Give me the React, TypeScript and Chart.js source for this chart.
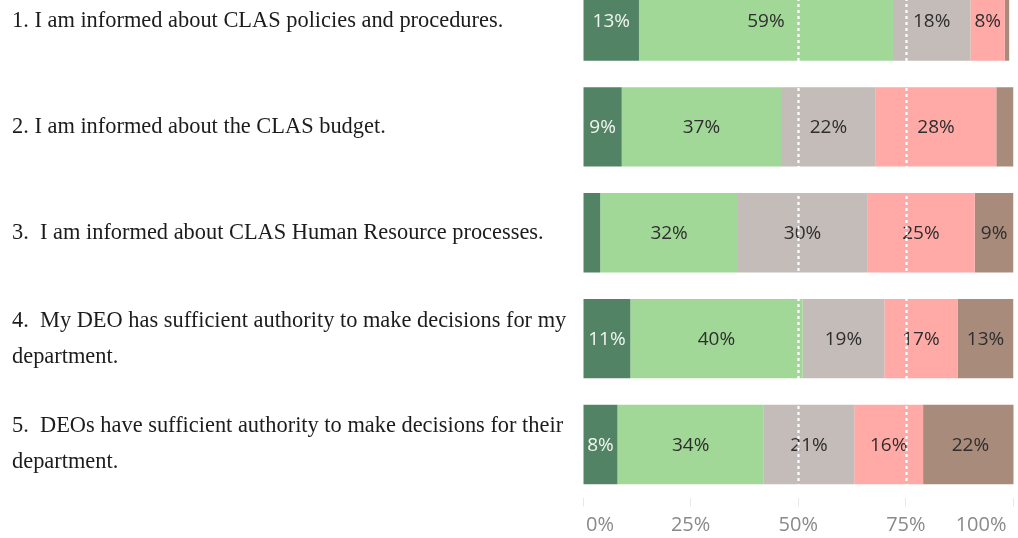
import React, { useEffect, useRef } from "react";
import { Chart, registerables } from "chart.js";

Chart.register(...registerables);

// Survey statements (each entry is one line of the wrapped label)
const statements: string[][] = [
  ["1. I am informed about CLAS policies and procedures."],
  ["2. I am informed about the CLAS budget."],
  ["3.  I am informed about CLAS Human Resource processes."],
  ["4.  My DEO has sufficient authority to make decisions for my", "department."],
  ["5.  DEOs have sufficient authority to make decisions for their", "department."],
];

// Share of responses (%) per answer, one value per statement
const stronglyAgree = [13, 9, 4, 11, 8];
const agree = [59, 37, 32, 40, 34];
const neutral = [18, 22, 30, 19, 21];
const disagree = [8, 28, 25, 17, 16];
const stronglyDisagree = [1, 4, 9, 13, 22];

const seriesNames = ["Strongly agree", "Agree", "Neutral", "Disagree", "Strongly disagree"];
const seriesColors = ["#538365", "#a1d897", "#c4bcb8", "#ffaaa6", "#a98b7c"];
const labelColors = ["#f2f6f2", "#2e2e2e", "#2e2e2e", "#2e2e2e", "#2e2e2e"];

// Axis ticks and the reference lines drawn across the bars
const axisTicks = [0, 25, 50, 75, 100];
const referenceLines = [50, 75];

const SANS = "'Open Sans', 'Noto Sans', sans-serif";
const SERIF = "'Liberation Serif', 'Times New Roman', serif";

const segmentLabels = {
  id: "segmentLabels",
  afterDatasetsDraw(chart: any) {
    const ctx = chart.ctx;
    const area = chart.chartArea;
    ctx.save();
    ctx.font = `19px ${SANS}`;
    ctx.textAlign = "center";
    ctx.textBaseline = "middle";
    chart.data.datasets.forEach((ds: any, i: number) => {
      const meta = chart.getDatasetMeta(i);
      meta.data.forEach((el: any, j: number) => {
        const v = ds.data[j];
        if (v < 5) return;
        ctx.fillStyle = labelColors[i];
        ctx.fillText(`${v}%`, (el.x + el.base) / 2, el.y + 1);
      });
    });

    // white dotted guide lines on top of bars
    const xs = chart.scales.x;
    ctx.strokeStyle = "#ffffff";
    ctx.lineWidth = 2.2;
    ctx.setLineDash([3, 3]);
    referenceLines.forEach((v) => {
      const x = Math.round(xs.getPixelForValue(v)) + 0.5;
      ctx.beginPath();
      ctx.moveTo(x, area.top);
      ctx.lineTo(x, area.bottom);
      ctx.stroke();
    });
    ctx.restore();
  },
};

const axisLabels = {
  id: "axisLabels",
  afterDraw(chart: any) {
    const ctx = chart.ctx;
    const area = chart.chartArea;
    const xs = chart.scales.x;
    ctx.save();
    ctx.font = `20px ${SANS}`;
    ctx.fillStyle = "#8a8a8a";
    ctx.textAlign = "left";
    ctx.textBaseline = "middle";
    axisTicks.forEach((v) => {
      const text = `${v}%`;
      const w = ctx.measureText(text).width;
      const px = xs.getPixelForValue(v);
      let left = px - w / 2;
      left = Math.max(left, area.left + 3);
      left = Math.min(left, area.right - 7 - w);
      ctx.fillText(text, left, area.bottom + 28);
    });
    ctx.restore();
  },
};

export default function App() {
  const canvasRef = useRef<HTMLCanvasElement>(null);

  useEffect(() => {
    const values = [stronglyAgree, agree, neutral, disagree, stronglyDisagree];
    const chart = new Chart(canvasRef.current as HTMLCanvasElement, {
      type: "bar",
      data: {
        labels: statements,
        datasets: values.map((d, i) => ({
          label: seriesNames[i],
          data: d,
          backgroundColor: seriesColors[i],
          borderWidth: 0,
          categoryPercentage: 1,
          barPercentage: 0.75,
        })),
      },
      options: {
        indexAxis: "y",
        animation: false,
        responsive: false,
        devicePixelRatio: 1,
        layout: { padding: { left: 12, right: 4.5, top: 8, bottom: 0 } },
        plugins: {
          legend: { display: false },
          tooltip: { enabled: false },
        },
        scales: {
          x: {
            stacked: true,
            min: 0,
            max: 100,
            ticks: { display: false, stepSize: 25 },
            grid: {
              drawOnChartArea: false,
              drawTicks: true,
              tickLength: 9,
              color: "#e8e8e8",
            },
            border: { display: false },
            afterFit(scale: any) {
              scale.height = 40.5;
            },
          },
          y: {
            stacked: true,
            grid: { display: false },
            border: { display: false },
            ticks: {
              autoSkip: false,
              crossAlign: "far",
              color: "#1c1c1c",
              font: { family: SERIF, size: 22.4, lineHeight: "36px" },
            },
            afterFit(scale: any) {
              scale.width = 571;
              scale.paddingTop = 0;
              scale.paddingBottom = 0;
            },
          },
        },
      },
      plugins: [segmentLabels, axisLabels],
    });
    return () => chart.destroy();
  }, []);

  return (
    <div style={{ position: "fixed", left: 0, top: -40, width: 1018, height: 578, background: "#fff" }}>
      <canvas ref={canvasRef} width={1018} height={578} style={{ width: 1018, height: 578 }} />
    </div>
  );
}
